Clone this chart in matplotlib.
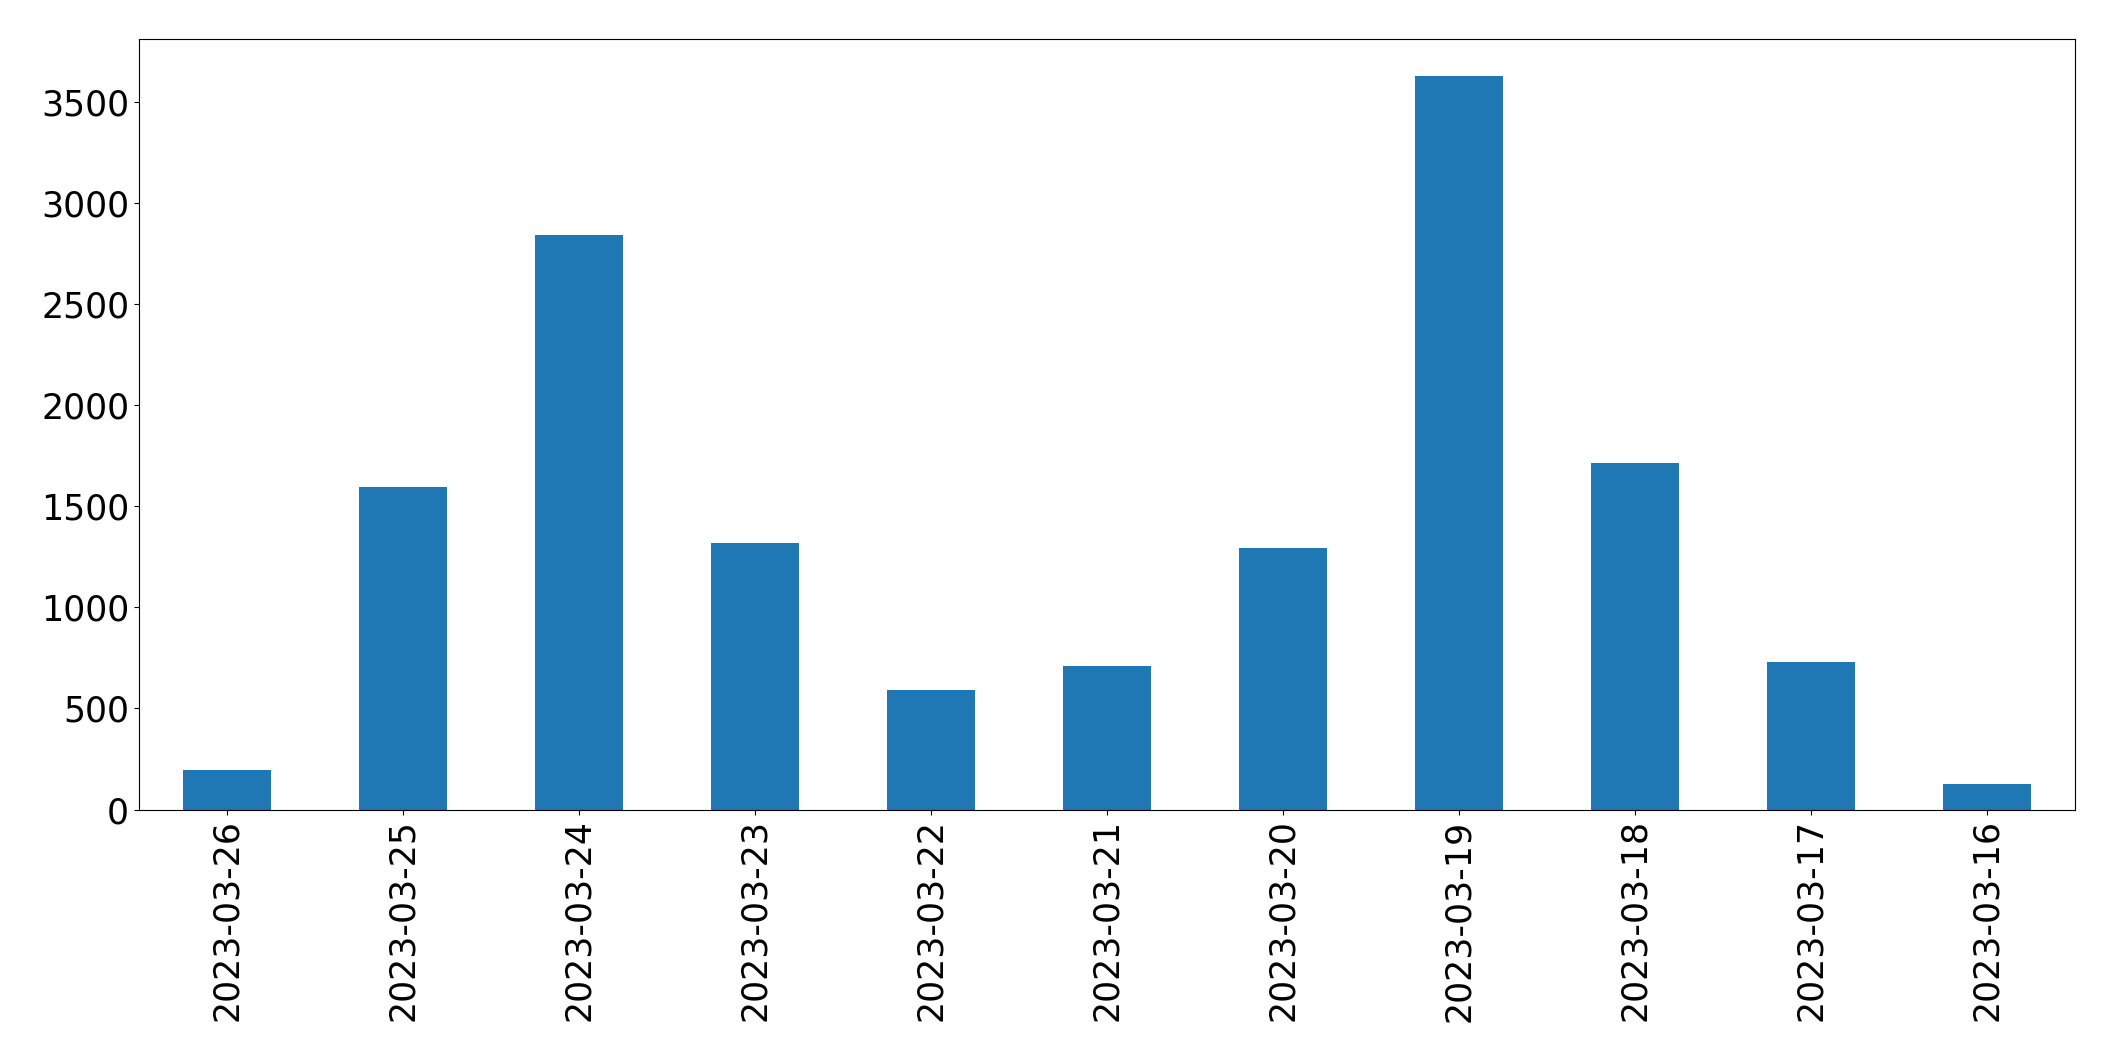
import matplotlib
matplotlib.use("Agg")
import matplotlib.pyplot as plt

dates = ["2023-03-26","2023-03-25","2023-03-24","2023-03-23","2023-03-22","2023-03-21",
         "2023-03-20","2023-03-19","2023-03-18","2023-03-17","2023-03-16"]
values = [194, 1596, 2840, 1318, 590, 710, 1292, 3626, 1712, 728, 124]

fig = plt.figure(figsize=(21.15, 10.61), dpi=100)
ax = fig.add_axes([0.0657, 0.237, 0.9153, 0.726])
x = range(len(dates))
ax.bar(x, values, width=0.5, color="#1f77b4")
ax.set_xticks(list(x))
ax.set_xticklabels(dates, rotation=90)
ax.set_xlim(-0.5, len(dates) - 0.5)
ax.set_ylim(0, 3810)
ax.tick_params(labelsize=25)
fig.savefig("out.png", dpi=100)
